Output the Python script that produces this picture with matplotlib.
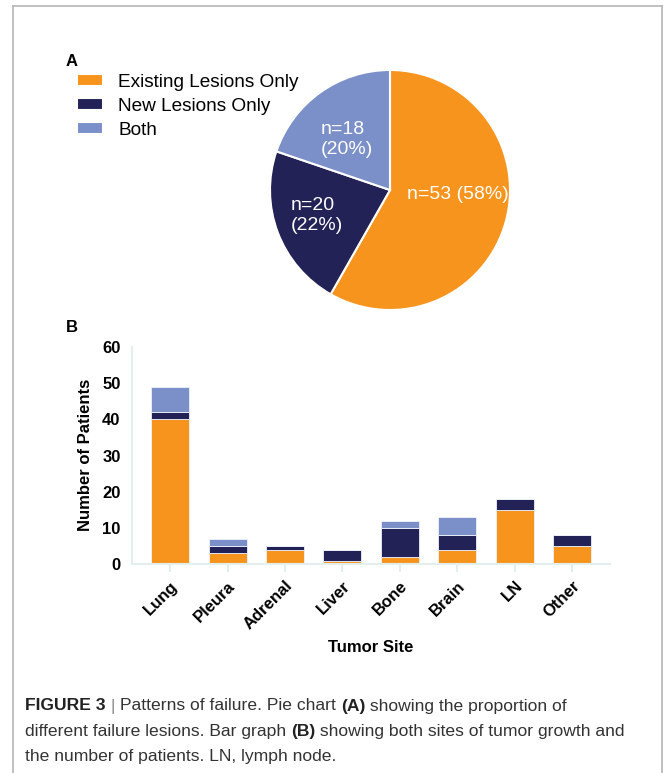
import matplotlib
matplotlib.use("Agg")
import matplotlib.pyplot as plt
from matplotlib.lines import Line2D
from matplotlib.offsetbox import TextArea, HPacker, AnnotationBbox

plt.rcParams['font.family'] = ['Liberation Sans', 'DejaVu Sans']

# pie data (panel A)
pie_labels = ['Existing Lesions Only', 'New Lesions Only', 'Both']
pie_counts = [53, 20, 18]
pie_pcts = [58, 22, 20]

# stacked bars (panel B)
sites = ['Lung', 'Pleura', 'Adrenal', 'Liver', 'Bone', 'Brain', 'LN', 'Other']
existing = [40, 3, 4, 1, 2, 4, 15, 5]
new_only = [2, 2, 1, 3, 8, 4, 3, 3]
both = [7, 2, 0, 0, 2, 5, 0, 0]

colors = ['#F7941E', '#222256', '#7B8FC8']

W, H = 665, 773
fig = plt.figure(figsize=(W / 100, H / 100), dpi=100)

def fx(px):
    return px / W

def fy(py):
    return 1 - py / H

# outer frame
frame_kw = dict(color='#b5b5b5', lw=1.2, transform=fig.transFigure)
fig.add_artist(Line2D([fx(13), fx(13)], [0, fy(6)], **frame_kw))
fig.add_artist(Line2D([fx(13), fx(662)], [fy(6), fy(6)], **frame_kw))
fig.add_artist(Line2D([fx(662), fx(662)], [0, fy(6)], **frame_kw))

# ---- panel A: pie ----
r = 120
axp = fig.add_axes([fx(390 - r), fy(190 + r), fx(2 * r), (2 * r) / H])
wedges, _ = axp.pie(pie_counts, colors=colors, startangle=90, counterclock=False,
                    wedgeprops=dict(edgecolor='white', linewidth=1.5))
axp.set_xlim(-1, 1)
axp.set_ylim(-1, 1)
axp.set_aspect('equal')
axp.axis('off')

pie_text = ['n=%d (%d%%)' % (pie_counts[0], pie_pcts[0]),
            'n=%d\n(%d%%)' % (pie_counts[1], pie_pcts[1]),
            'n=%d\n(%d%%)' % (pie_counts[2], pie_pcts[2])]
pie_pos = [(0.14, -0.04), (-0.83, -0.21), (-0.58, 0.42)]
for txt, (x, y) in zip(pie_text, pie_pos):
    axp.text(x, y, txt, color='white', fontsize=14, ha='left', va='center',
             linespacing=1.25)

fig.text(fx(66), fy(62), 'A', fontsize=12, fontweight='bold', ha='left', va='center')
fig.legend(wedges, pie_labels, loc='upper left', bbox_to_anchor=(fx(77), fy(74)),
           frameon=False, fontsize=13.7, handlelength=1.38, handleheight=0.62,
           handletextpad=0.78, labelspacing=0.36, borderpad=0, borderaxespad=0)

# ---- panel B: stacked bars ----
axb = fig.add_axes([fx(131.7), fy(564.3), fx(610) - fx(131.7), (564.3 - 346.7) / H])
x = range(len(sites))
bar_kw = dict(width=0.66, edgecolor='#eef2fa', linewidth=0.6)
axb.bar(x, existing, color=colors[0], **bar_kw)
axb.bar(x, new_only, bottom=existing, color=colors[1], **bar_kw)
base2 = [a + b for a, b in zip(existing, new_only)]
axb.bar(x, both, bottom=base2, color=colors[2], **bar_kw)

axb.set_xlim(-0.67, 7.66)
axb.set_ylim(0, 60)
axb.set_yticks([0, 10, 20, 30, 40, 50, 60])
axb.set_xticks(list(x))
axb.set_xticklabels(sites, rotation=45, ha='right', rotation_mode='anchor',
                    fontweight='bold', fontsize=12)
for lab in axb.get_yticklabels():
    lab.set_fontweight('bold')
    lab.set_fontsize(12)
for side in ['top', 'right']:
    axb.spines[side].set_visible(False)
for side in ['left', 'bottom']:
    axb.spines[side].set_color('#e2efec')
    axb.spines[side].set_linewidth(1.5)
axb.tick_params(axis='y', length=0, pad=8)
axb.tick_params(axis='x', length=6, width=1.5, color='#e2efec', pad=4)

fig.text(fx(66), fy(327), 'B', fontsize=12, fontweight='bold', ha='left', va='center')
fig.text(fx(86), fy(455), 'Number of Patients', rotation=90, fontsize=12,
         fontweight='bold', ha='center', va='center')
fig.text(fx(371), fy(648), 'Tumor Site', fontsize=12, fontweight='bold',
         ha='center', va='center')

# ---- caption ----
cap_color = '#333333'

def piece(s, bold=False, color=cap_color):
    return TextArea(s, textprops=dict(fontsize=12.6, color=color,
                                      fontweight='bold' if bold else 'normal'))

cap_lines = [
    [('FIGURE 3', True, '#222222'), (' | ', False, '#888888'),
     ('Patterns of failure. Pie chart ', False, cap_color), ('(A)', True, '#222222'),
     (' showing the proportion of', False, cap_color)],
    [('different failure lesions. Bar graph ', False, cap_color), ('(B)', True, '#222222'),
     (' showing both sites of tumor growth and', False, cap_color)],
    [('the number of patients. LN, lymph node.', False, cap_color)],
]
for i, parts in enumerate(cap_lines):
    box = HPacker(children=[piece(s, b, c) for s, b, c in parts], align='baseline',
                  pad=0, sep=0)
    ab = AnnotationBbox(box, (fx(25), fy(706 + 25.5 * i)), xycoords='figure fraction',
                        box_alignment=(0, 0.5), frameon=False, pad=0)
    fig.add_artist(ab)

fig.savefig('out.png', dpi=100)
